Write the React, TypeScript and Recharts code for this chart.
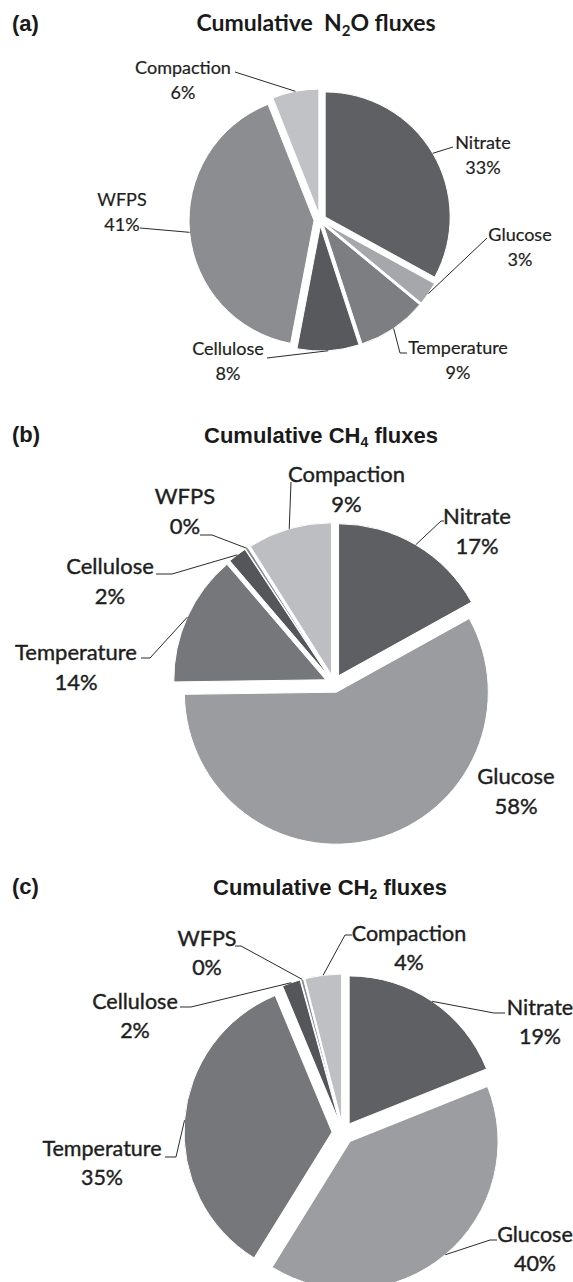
import React from 'react';
import { PieChart, Pie, Cell } from 'recharts';

// ---------- data ----------
const NAMES = ['Nitrate', 'Glucose', 'Temperature', 'Cellulose', 'WFPS', 'Compaction'];
const N2O_VALUES = [33, 3, 9, 8, 41, 6];
const CH4_VALUES = [17, 58, 14, 2, 0.3, 9];
const CH2_VALUES = [19, 40, 35, 2, 0.3, 4];

// ---------- styles ----------
const N2O_COLORS = ['#5f6064', '#a6a7aa', '#7d7e82', '#58595c', '#8c8d91', '#c1c2c5'];
const CH4_COLORS = ['#5e5f63', '#9b9ca0', '#76777b', '#55565a', '#88898d', '#bdbec1'];
const CH2_COLORS = ['#5f6064', '#9c9da1', '#76777b', '#55565a', '#8a8b8f', '#bfc0c3'];

type Pt = [number, number];
type LabelLayout = { tx: number; ty: number; pts: Pt[] };

// label placement relative to the pie centre (text block centre + leader line bend points)
const N2O_LABELS: LabelLayout[] = [
  { tx: 163, ty: -65, pts: [[133, -73]] },
  { tx: 200, ty: 27, pts: [[167, 18]] },
  { tx: 138, ty: 140, pts: [[80, 133], [87, 133]] },
  { tx: -92, ty: 141, pts: [[-53, 138]] },
  { tx: -198, ty: -8, pts: [[-180, 8]] },
  { tx: -137, ty: -140, pts: [[-85, -148]] },
];
const CH4_LABELS: LabelLayout[] = [
  { tx: 143, ty: -151.5, pts: [[107, -162.5], [110, -162.5]] },
  { tx: 182, ty: 108.5, pts: [] },
  { tx: -258, ty: -15.5, pts: [[-184, -25.5], [-193, -25.5]] },
  { tx: -224, ty: -101.5, pts: [[-162, -109.5], [-178, -109.5]] },
  { tx: -149, ty: -171.5, pts: [[-122, -148.5], [-134, -148.5]] },
  { tx: 12.5, ty: -193.5, pts: [[-43, -201.5]] },
];
const CH2_LABELS: LabelLayout[] = [
  { tx: 197, ty: -111, pts: [[151, -120], [162, -120]] },
  { tx: 192, ty: 116, pts: [[147, 107], [154, 107]] },
  { tx: -241, ty: 30, pts: [[-167, 24], [-178, 24]] },
  { tx: -208, ty: -117, pts: [[-152, -126], [-163, -126]] },
  { tx: -136, ty: -180, pts: [[-102, -187], [-108, -187]] },
  { tx: 66, ty: -185, pts: [[2, -198], [9, -198]] },
];

type Panel = {
  values: number[];
  colors: string[];
  labels: LabelLayout[];
  top: number;
  height: number;
  cx: number;
  cy: number;
  r: number;
  explode: number;
  fontSize: number;
  lineGap: number;
  weight: number;
};

const PANELS: Panel[] = [
  { values: N2O_VALUES, colors: N2O_COLORS, labels: N2O_LABELS, top: 0, height: 405, cx: 320, cy: 220, r: 125, explode: 6, fontSize: 18, lineGap: 25, weight: 0.2 },
  { values: CH4_VALUES, colors: CH4_COLORS, labels: CH4_LABELS, top: 405, height: 445, cx: 334, cy: 278.5, r: 152, explode: 9, fontSize: 22, lineGap: 30, weight: 0.4 },
  { values: CH2_VALUES, colors: CH2_COLORS, labels: CH2_LABELS, top: 850, height: 432, cx: 343, cy: 283, r: 148, explode: 11, fontSize: 21.5, lineGap: 29, weight: 0.4 },
];

const LABEL_FONT = 'Lato, "Open Sans", sans-serif';
const TITLE_FONT = '"Liberation Sans", Arial, sans-serif';

function PiePanel({ p }: { p: Panel }) {
  const data = NAMES.map((name, i) => ({ name, value: p.values[i] }));
  const total = p.values.reduce((a, b) => a + b, 0);
  let cum = 0;
  const mids = p.values.map((v) => {
    const m = 90 - (360 * (cum + v / 2)) / total;
    cum += v;
    return m;
  });

  const renderLabel = (props: any, k: number, ox: number, oy: number) => {
    if (props.index !== k) return null;
    const L = p.labels[k];
    const mid = typeof props.midAngle === 'number' ? props.midAngle : mids[k];
    const rad = (mid * Math.PI) / 180;
    const pcx = typeof props.cx === 'number' ? props.cx : p.cx + ox;
    const pcy = typeof props.cy === 'number' ? props.cy : p.cy + oy;
    const ex = pcx + p.r * Math.cos(rad);
    const ey = pcy - p.r * Math.sin(rad);
    const pts: Pt[] = [[ex, ey], ...L.pts.map(([x, y]) => [p.cx + x, p.cy + y] as Pt)];
    const tx = p.cx + L.tx;
    const ty = p.cy + L.ty;
    const base = p.fontSize * 0.34;
    const textProps = {
      textAnchor: 'middle' as const,
      fontFamily: LABEL_FONT,
      fontSize: p.fontSize,
      fill: '#1e1e1e',
      stroke: '#1e1e1e',
      strokeWidth: p.weight,
    };
    return (
      <g>
        {L.pts.length > 0 && (
          <polyline points={pts.map((q) => q.join(',')).join(' ')} fill="none" stroke="#2a2a2a" strokeWidth={1} />
        )}
        <text x={tx} y={ty - p.lineGap / 2 + base} {...textProps}>
          {NAMES[k]}
        </text>
        <text x={tx} y={ty + p.lineGap / 2 + base} {...textProps}>
          {`${Math.round((props.percent ?? p.values[k] / total) * 100)}%`}
        </text>
      </g>
    );
  };

  return (
    <div style={{ position: 'absolute', left: 0, top: p.top, width: 573, height: p.height }}>
      <PieChart width={573} height={p.height} margin={{ top: 0, right: 0, bottom: 0, left: 0 }}>
        {NAMES.map((_, k) => {
          const rad = (mids[k] * Math.PI) / 180;
          const ox = p.explode * Math.cos(rad);
          const oy = -p.explode * Math.sin(rad);
          return (
            <Pie
              key={k}
              data={data}
              dataKey="value"
              nameKey="name"
              cx={p.cx + ox}
              cy={p.cy + oy}
              innerRadius={0}
              outerRadius={p.r}
              startAngle={90}
              endAngle={-270}
              isAnimationActive={false}
              labelLine={false}
              label={(props: any) => renderLabel(props, k, ox, oy)}
            >
              {data.map((d, j) => (
                <Cell
                  key={d.name}
                  fill={j === k ? p.colors[j] : 'none'}
                  stroke={j === k ? '#ffffff' : 'none'}
                  strokeWidth={1}
                />
              ))}
            </Pie>
          );
        })}
      </PieChart>
    </div>
  );
}

function Titles() {
  return (
    <svg width={573} height={1282} style={{ position: 'absolute', left: 0, top: 0, pointerEvents: 'none' }}>
      <text x={12} y={31} fontFamily={TITLE_FONT} fontWeight="bold" fontSize={22} fill="#1a1a1a">(a)</text>
      <text x={316} y={31} textAnchor="middle" fontFamily={LABEL_FONT} fontWeight="bold" fontSize={23} fill="#1a1a1a">
        Cumulative{'\u00a0\u00a0'}N<tspan fontSize={15} dy={5}>2</tspan><tspan dy={-5}>O fluxes</tspan>
      </text>
      <text x={12} y={442} fontFamily={TITLE_FONT} fontWeight="bold" fontSize={22} fill="#1a1a1a">(b)</text>
      <text x={321} y={443} textAnchor="middle" fontFamily={TITLE_FONT} fontWeight="bold" fontSize={22} fill="#1a1a1a">
        Cumulative CH<tspan fontSize={14} dy={4}>4</tspan><tspan dy={-4}> fluxes</tspan>
      </text>
      <text x={12} y={894} fontFamily={TITLE_FONT} fontWeight="bold" fontSize={22} fill="#1a1a1a">(c)</text>
      <text x={330} y={895} textAnchor="middle" fontFamily={TITLE_FONT} fontWeight="bold" fontSize={22} fill="#1a1a1a">
        Cumulative CH<tspan fontSize={14} dy={4}>2</tspan><tspan dy={-4}> fluxes</tspan>
      </text>
    </svg>
  );
}

export default function App() {
  return (
    <div style={{ position: 'absolute', left: 0, top: 0, width: 573, height: 1282, background: '#ffffff', overflow: 'hidden' }}>
      {PANELS.map((p, i) => (
        <PiePanel key={i} p={p} />
      ))}
      <Titles />
    </div>
  );
}
